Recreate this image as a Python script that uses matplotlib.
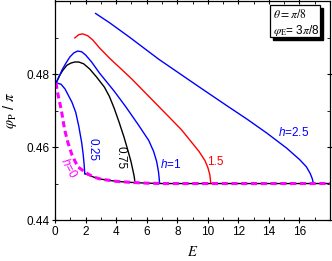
import numpy as np
import matplotlib
matplotlib.use('Agg')
import matplotlib.pyplot as plt
from matplotlib.patches import Rectangle

plt.rcParams['font.family'] = ['Liberation Sans', 'DejaVu Sans']
plt.rcParams['mathtext.fontset'] = 'custom'
plt.rcParams['mathtext.it'] = 'Liberation Sans:italic'
plt.rcParams['mathtext.rm'] = 'Liberation Sans'

# curves: E, phi_P/pi
E_h0 = [0.06, 0.12, 0.25, 0.4, 0.62, 0.84, 1.1, 1.48, 2.0, 2.5, 3.0, 4.0, 5.0, 6.0, 7.0, 18.0]
phi_h0 = [0.4776, 0.4759, 0.4731, 0.4703, 0.4648, 0.4612, 0.4579, 0.4546, 0.4530,
          0.4518, 0.4512, 0.4506, 0.4503, 0.4501, 0.4500, 0.4500]

E_h025 = [0.06, 0.39, 0.65, 1.10, 1.35, 1.55, 1.74, 1.84, 1.90, 1.94]
phi_h025 = [0.4776, 0.4772, 0.4759, 0.4723, 0.4695, 0.4657, 0.4612, 0.4579, 0.4552, 0.4527]

E_base = [1.94, 2.5, 3.0, 4.0, 5.0, 6.0, 7.0, 18.0]
phi_base = [0.4527, 0.4518, 0.4512, 0.4506, 0.4503, 0.4501, 0.4500, 0.4500]

E_h075 = [0.06, 0.26, 0.52, 0.77, 1.03, 1.29, 1.55, 1.87, 2.26, 2.71, 3.23, 3.55, 3.87,
          4.19, 4.52, 4.77, 4.97, 5.10, 5.18, 5.23]
phi_h075 = [0.4775, 0.4794, 0.4811, 0.4824, 0.4830, 0.4833, 0.4833, 0.4828, 0.4814, 0.4792,
            0.4764, 0.4739, 0.4706, 0.4668, 0.4626, 0.4590, 0.4560, 0.4535, 0.4519, 0.4502]

E_h1 = [0.06, 0.26, 0.45, 0.71, 0.97, 1.23, 1.48, 1.74, 2.00, 2.39, 2.90, 3.87, 4.65,
        5.48, 6.13, 6.45, 6.65, 6.77, 6.81, 6.84]
phi_h1 = [0.4775, 0.4792, 0.4811, 0.4830, 0.4847, 0.4858, 0.4863, 0.4861, 0.4852, 0.4833,
          0.4803, 0.4753, 0.4709, 0.4659, 0.4618, 0.4588, 0.4560, 0.4532, 0.4516, 0.4502]

E_h15 = [1.29, 1.55, 1.81, 2.13, 2.45, 2.90, 3.55, 4.32, 5.03, 6.13, 7.42, 8.26, 8.90,
         9.42, 9.81, 10.0, 10.13, 10.19]
phi_h15 = [0.4899, 0.4908, 0.4910, 0.4905, 0.4894, 0.4872, 0.4844, 0.4814, 0.4786, 0.4739,
           0.4684, 0.4648, 0.4615, 0.4588, 0.4563, 0.4544, 0.4524, 0.4502]

E_h25 = [2.65, 3.55, 4.84, 6.77, 9.35, 11.29, 12.58, 13.87, 15.16, 16.0, 16.45, 16.71,
         16.84, 16.9]
phi_h25 = [0.4966, 0.4941, 0.4902, 0.4841, 0.4767, 0.4712, 0.4676, 0.4638, 0.4597, 0.4566,
           0.4546, 0.4527, 0.4513, 0.4502]

blue = '#0000ff'
red = '#ff0000'
magenta = '#ff00ff'

fig = plt.figure(figsize=(3.32, 2.61), dpi=100)
ax = fig.add_axes([0.166, 0.157, 0.828, 0.839])

lw = 1.0
ax.plot(E_base, phi_base, color='black', lw=lw)
ax.plot(E_h025, phi_h025, color=blue, lw=lw)
ax.plot(E_h075, phi_h075, color='black', lw=lw)
ax.plot(E_h1, phi_h1, color=blue, lw=lw)
ax.plot(E_h15, phi_h15, color=red, lw=lw)
ax.plot(E_h25, phi_h25, color=blue, lw=lw)
ax.plot(E_h0, phi_h0, color=magenta, lw=2.2, ls=(0, (2.0, 1.2)))

ax.set_xlim(0, 18)
ax.set_ylim(0.44, 0.50)
ax.set_xticks([0, 2, 4, 6, 8, 10, 12, 14, 16])
ax.set_xticks(np.arange(1, 18, 2), minor=True)
ax.set_yticks([0.44, 0.46, 0.48])
ax.set_yticks([0.45, 0.47, 0.49], minor=True)
ax.set_yticklabels(['0.44', '0.46', '0.48'])
ax.tick_params(which='major', direction='inout', length=5, width=0.8, labelsize=8.5,
               pad=1.5, top=True, right=True)
ax.tick_params(which='minor', direction='in', length=2.5, width=0.6, top=True, right=True)
for s in ax.spines.values():
    s.set_linewidth(0.9)

ax.set_xlabel('$E$', fontsize=10.5, math_fontfamily='stix', labelpad=5)
ax.set_ylabel(r'$\varphi_{\rm P}$ / $\pi$', fontsize=10.5, math_fontfamily='stix', labelpad=5)

# curve labels
ax.text(2.45, 0.4593, '0.25', color=blue, fontsize=8.5, rotation=-90, ha='center', va='center')
ax.text(4.25, 0.4571, '0.75', color='black', fontsize=8.5, rotation=-90, ha='center', va='center')
ax.text(7.55, 0.4552, '$h$=1', color=blue, fontsize=8.5, ha='center', va='center')
ax.text(10.5, 0.4560, '1.5', color=red, fontsize=8.5, ha='center', va='center')
ax.text(15.6, 0.4640, '$h$=2.5', color=blue, fontsize=8.5, ha='center', va='center')
ax.text(0.9, 0.4543, '$h$=0', color=magenta, fontsize=8.5, rotation=-62, ha='center', va='center')

# parameter box with shadow
W, H = 332.0, 261.0
fig.patches.append(Rectangle((273 / W, 1 - 40 / H), 50 / W, 32 / H, transform=fig.transFigure,
                             facecolor='black', edgecolor='black', zorder=5))
fig.patches.append(Rectangle((270 / W, 1 - 37 / H), 50 / W, 32 / H, transform=fig.transFigure,
                             facecolor='white', edgecolor='black', lw=0.9, zorder=6))
fig.text(273 / W, 1 - 15 / H, r'$\theta = \pi/8$', fontsize=8.5, math_fontfamily='stix',
         va='center', zorder=7)
fig.text(273 / W, 1 - 31 / H, r'$\varphi_{\rm E}$= 3$\pi$/8', fontsize=8.5,
         math_fontfamily='stix', va='center', zorder=7)

fig.savefig('out.png', dpi=100)
